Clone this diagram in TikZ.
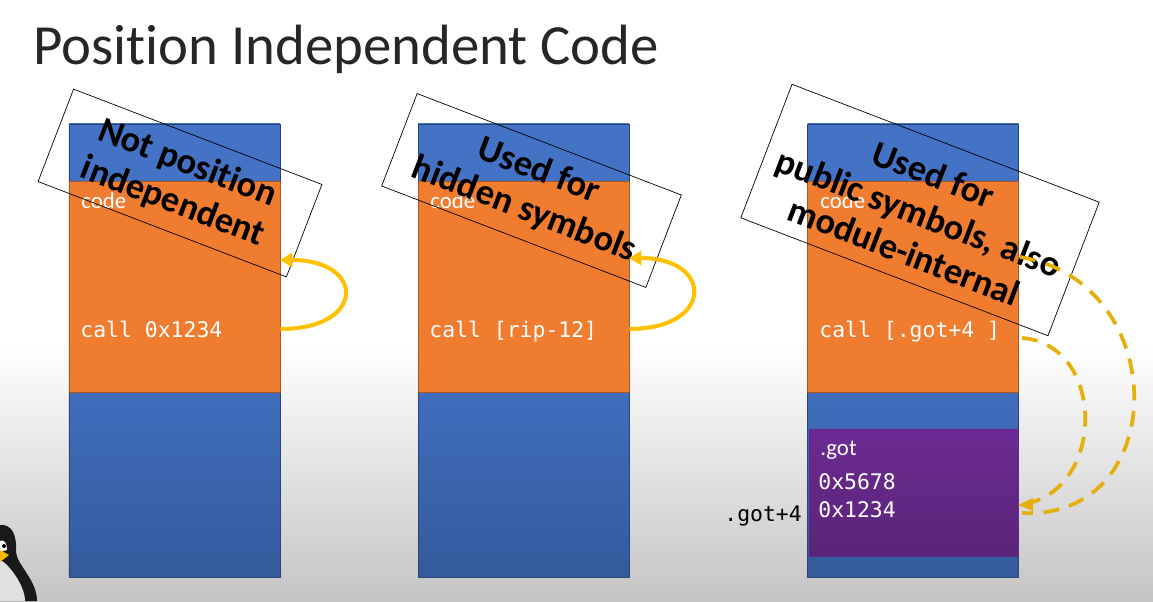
\documentclass[tikz,border=0pt]{standalone}
\usepackage{fontspec}
\setmainfont[Ligatures=CommonOff]{Carlito}
\setmonofont{DejaVu Sans Mono}
\usetikzlibrary{arrows.meta}
\definecolor{stackblue}{HTML}{4472C4}
\definecolor{stackdark}{HTML}{335A9C}
\definecolor{codeorange}{HTML}{F07C30}
\definecolor{gotpurple}{HTML}{6C2B94}
\definecolor{gotdark}{HTML}{5A2477}
\definecolor{jumpyellow}{HTML}{FFC000}
\definecolor{dashyellow}{HTML}{E5AE08}
\pgfdeclareverticalshading{stackfade}{100bp}{color(0bp)=(stackdark); color(25bp)=(stackdark); color(50.6bp)=(stackblue); color(100bp)=(stackblue)}

\begin{document}
\begin{tikzpicture}[x=0.2mm, y=-0.2mm,
  stackbox/.style={draw=stackblue!60!black, shading=stackfade, minimum width=4.22cm, minimum height=9.06cm, inner sep=0pt},
  codebox/.style={draw=codeorange!70!black, fill=codeorange, minimum width=4.22cm, minimum height=4.22cm, inner sep=0pt},
  gotbox/.style={draw=gotpurple!90!black, top color=gotpurple, bottom color=gotdark, minimum width=4.18cm, minimum height=2.54cm, inner sep=0pt},
  notebox/.style={draw=black, thin, rotate=-21, align=center, inner sep=0pt, font=\fontsize{20.7}{23.5}\selectfont\bfseries},
  codelabel/.style={anchor=base west, text=white, inner sep=0pt, font=\fontsize{13}{14}\selectfont},
  asmlabel/.style={anchor=base west, text=white, inner sep=0pt, font=\ttfamily\fontsize{12.2}{14}\selectfont},
  jump/.style={jumpyellow, line width=2.3pt, -{Triangle[length=7pt,width=8pt]}},
  dashjump/.style={dashyellow, line width=2.1pt, dash pattern=on 9pt off 6pt}]
\useasboundingbox (0,0) rectangle (1153,601);
\fill[white] (0,0) rectangle (1153,345);
\shade[top color=white, bottom color=black!23] (0,345) rectangle (1153,601);

\node (title) [anchor=base west, inner sep=0pt, text=black!85, font=\fontsize{32.3}{36}\selectfont] at (33,64) {Position Independent Code};

\fill[black!90] (0,525) .. controls (12,524) and (17,535) .. (16,552) .. controls (17,565) and (37,580) .. (37,601) -- (0,601) -- cycle;
\fill[black!12] (0,560) .. controls (8,563) and (25,585) .. (25,601) -- (0,601) -- cycle;
\fill[white] (0,541) .. controls (4,539) and (7,543) .. (7,550) -- (0,552) -- cycle;
\fill[black] (4,546) circle (2);
\fill[jumpyellow!90!orange] (0,550) -- (9,555) -- (0,562) -- cycle;

\node (stackA) [stackbox] at (174.5,350.5) {};
\node (codeA) [codebox] at (174.5,286.5) {};
\node (stackB) [stackbox] at (523.5,350.5) {};
\node (codeB) [codebox] at (523.5,286.5) {};
\node (stackC) [stackbox] at (913,350.5) {};
\node (codeC) [codebox] at (913,286.5) {};
\node (gotC) [gotbox] at (913.5,492.5) {};

\node (codeTextA) [codelabel] at (81,208) {code};
\node (codeTextB) [codelabel] at (430,208) {code};
\node (codeTextC) [codelabel] at (820,208) {code};
\node (callA) [asmlabel] at (80,337) {call 0x1234};
\node (callB) [asmlabel] at (429,337) {call [rip-12]};
\node (callC) [asmlabel] at (819,337) {call [.got+4 ]};
\node (gotName) [codelabel] at (820,455) {.got};
\node (gotFirst) [asmlabel] at (818,489) {0x5678};
\node (gotSecond) [asmlabel] at (818,517) {0x1234};
\node (gotOffset) [asmlabel, text=black] at (724,521) {.got+4};

\node (noteA) [notebox, minimum width=5.32cm, minimum height=1.98cm] at (180,183) {Not position\\independent};
\node (noteB) [notebox, minimum width=5.66cm, minimum height=1.98cm] at (531.5,190.5) {Used for\\hidden symbols};
\node (noteC) [notebox, minimum width=6.58cm, minimum height=2.86cm] at (920,210) {\rule{0pt}{18pt}Used for\\public symbols, also\\module-internal};

\coordinate (backA) at (280,260);
\coordinate (backB) at (629,258);
\coordinate (outC) at (1020,257);
\coordinate (slotC) at (1018,505);
\coordinate (slotOuter) at (1022,513);
\coordinate (startA) at (codeA.east |- 0,329);
\coordinate (startB) at (codeB.east |- 0,329);
\coordinate (startC) at (1022,338);

\draw[jump] (startA) .. controls (366,329) and (366,260) .. (backA);
\draw[jump] (startB) .. controls (714,329) and (714,258) .. (backB);
\draw[dashjump] (startC) .. controls (1107,344) and (1107,496) .. (slotC);
\fill[dashyellow] (1018,505) -- (1033,498) -- (1033,511) -- cycle;
\draw[dashjump] (outC) .. controls (1172,282) and (1172,520) .. (slotOuter);
\end{tikzpicture}
\end{document}
